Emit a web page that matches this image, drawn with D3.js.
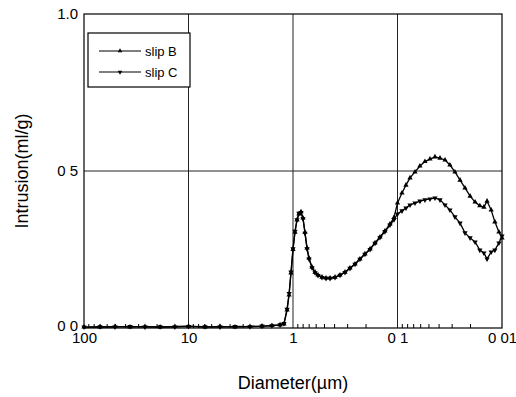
<!DOCTYPE html>
<html>
<head>
<meta charset="utf-8">
<script src="https://cdn.jsdelivr.net/npm/d3@7"></script>
<style>
  body { margin: 0; background: #fff; }
  text { font-family: "Liberation Sans", Arial, sans-serif; fill: #000; }
</style>
</head>
<body>
<svg></svg>
<script>
// diameters (um)
const diameter = [100, 70.3, 50.5, 36.3, 26.1, 18.7, 13.5, 10, 6.95, 5.0, 3.59, 2.58, 1.98, 1.59, 1.33,
   1.22, 1.14, 1.09, 1.045, 1.0, 0.957, 0.916, 0.877, 0.838, 0.802, 0.768, 0.734, 0.703, 0.658,
   0.615, 0.576, 0.528, 0.483, 0.442, 0.396, 0.355, 0.318, 0.285, 0.255, 0.229, 0.205, 0.183,
   0.164, 0.147, 0.132, 0.118, 0.108, 0.1, 0.0906, 0.083, 0.0759, 0.068, 0.061, 0.0546, 0.0489,
   0.0438, 0.0392, 0.0351, 0.0315, 0.0282, 0.0252, 0.0226, 0.0202, 0.0181, 0.0163, 0.0149,
   0.0139, 0.0127, 0.0117, 0.0107, 0.01];

const slipB = [0.003, 0.003, 0.005, 0.003, 0.005, 0.003, 0.005, 0.006, 0.003, 0.005, 0.003, 0.005, 0.006, 0.008, 0.01,
   0.013, 0.057, 0.105, 0.175, 0.25, 0.305, 0.344, 0.363, 0.37, 0.35, 0.305, 0.255, 0.223, 0.194,
   0.178, 0.169, 0.162, 0.159, 0.159, 0.162, 0.169, 0.178, 0.191, 0.204, 0.22, 0.236, 0.252,
   0.271, 0.29, 0.309, 0.331, 0.352, 0.398, 0.43, 0.455, 0.478, 0.497, 0.516, 0.53, 0.538,
   0.545, 0.541, 0.535, 0.519, 0.497, 0.471, 0.446, 0.42, 0.401, 0.389, 0.385,
   0.404, 0.376, 0.338, 0.306, 0.287];

const slipC = [0.003, 0.004, 0.003, 0.005, 0.003, 0.004, 0.003, 0.005, 0.004, 0.003, 0.005, 0.004, 0.006, 0.007, 0.01,
   0.014, 0.06, 0.11, 0.178, 0.252, 0.308, 0.345, 0.365, 0.368, 0.348, 0.302, 0.252, 0.22, 0.192,
   0.176, 0.167, 0.161, 0.158, 0.158, 0.161, 0.168, 0.177, 0.19, 0.203, 0.219, 0.235, 0.25,
   0.27, 0.288, 0.307, 0.328, 0.345, 0.363, 0.373, 0.382, 0.392, 0.398, 0.404, 0.408, 0.411,
   0.414, 0.408, 0.392, 0.376, 0.354, 0.334, 0.303, 0.287, 0.274, 0.248, 0.239,
   0.22, 0.242, 0.248, 0.271, 0.293];

const xTicks = [100, 10, 1, 0.1, 0.01],
      xTickLabels = ['100', '10', '1', '0 1', '0 01'];
const yTicks = [0, 0.5, 1.0],
      yTickLabels = ['0 0', '0 5', '1.0'];
const seriesNames = ['slip B', 'slip C'];

const WIDTH = 516,
      HEIGHT = 397,
      MARGINS = { top: 14, right: 14, bottom: 69, left: 84 };

let svg = d3.select('svg')
   .attr('width', WIDTH)
   .attr('height', HEIGHT);

let x = d3.scaleLog().domain([100, 0.01]).range([MARGINS.left, WIDTH - MARGINS.right]);
let y = d3.scaleLinear().domain([0, 1]).range([HEIGHT - MARGINS.bottom, MARGINS.top]);

// grid lines
svg.append('g')
   .selectAll('line.vg')
   .data([10, 1, 0.1])
   .join('line')
   .attr('x1', d => x(d)).attr('x2', d => x(d))
   .attr('y1', y(1)).attr('y2', y(0))
   .attr('stroke', '#222').attr('stroke-width', 1);

svg.append('line')
   .attr('x1', x(100)).attr('x2', x(0.01))
   .attr('y1', y(0.5)).attr('y2', y(0.5))
   .attr('stroke', '#222').attr('stroke-width', 1);

// minor ticks along the bottom, pointing inward
let minors = [];
[100, 10, 1, 0.1].forEach(top => {
   for (let k = 2; k <= 9; k++) minors.push(top / 10 * k);
});
svg.append('g')
   .selectAll('line')
   .data(minors.filter(d => d < 100 && d > 0.01))
   .join('line')
   .attr('x1', d => x(d)).attr('x2', d => x(d))
   .attr('y1', y(0)).attr('y2', y(0) - 4)
   .attr('stroke', '#000');

// axes
let xAxis = svg.append('g')
   .attr('transform', 'translate(0,' + y(0) + ')')
   .call(d3.axisBottom(x).tickValues(xTicks).tickFormat((d, i) => xTickLabels[i]).tickSize(0).tickPadding(4));
xAxis.select('.domain').remove();
xAxis.selectAll('text').attr('font-size', 15).attr('font-family', '"Liberation Sans", Arial, sans-serif');

let yAxis = svg.append('g')
   .attr('transform', 'translate(' + (MARGINS.left - 6) + ',0)')
   .call(d3.axisLeft(y).tickValues(yTicks).tickFormat((d, i) => yTickLabels[i]).tickSize(0).tickPadding(0));
yAxis.select('.domain').remove();
yAxis.selectAll('text').attr('font-size', 15).attr('font-family', '"Liberation Sans", Arial, sans-serif');
yAxis.selectAll('.tick').filter(d => d === 0).select('text').attr('dy', '0.15em');

// frame
svg.append('rect')
   .attr('x', x(100)).attr('y', y(1))
   .attr('width', x(0.01) - x(100)).attr('height', y(0) - y(1))
   .attr('fill', 'none').attr('stroke', '#000').attr('stroke-width', 1.2);

// series
let line = d3.line()
   .x(d => x(d[0]))
   .y(d => y(d[1]));

let series = [
   { name: seriesNames[0], values: slipB, rot: 0 },
   { name: seriesNames[1], values: slipC, rot: 180 }
];
let tri = d3.symbol().type(d3.symbolTriangle).size(12);

series.forEach(s => {
   let pts = diameter.map((d, i) => [d, s.values[i]]);
   svg.append('path')
      .datum(pts)
      .attr('fill', 'none')
      .attr('stroke', '#000')
      .attr('stroke-width', 1.3)
      .attr('d', line);
   svg.append('g')
      .selectAll('path')
      .data(pts)
      .join('path')
      .attr('d', tri)
      .attr('transform', d => 'translate(' + x(d[0]) + ',' + y(d[1]) + ') rotate(' + s.rot + ')')
      .attr('fill', '#000');
});

// legend
let legend = svg.append('g').attr('transform', 'translate(88,33)');
legend.append('rect')
   .attr('width', 102).attr('height', 54)
   .attr('fill', '#fff').attr('stroke', '#000').attr('stroke-width', 1.2);
series.forEach((s, i) => {
   let ly = 18 + i * 21;
   legend.append('line')
      .attr('x1', 11).attr('x2', 53).attr('y1', ly).attr('y2', ly)
      .attr('stroke', '#000').attr('stroke-width', 1.1);
   legend.append('path')
      .attr('d', d3.symbol().type(d3.symbolTriangle).size(9))
      .attr('transform', 'translate(32,' + ly + ') rotate(' + s.rot + ')');
   legend.append('text')
      .attr('x', 57).attr('y', ly + 4.5)
      .attr('font-size', 13)
      .text(s.name);
});

// axis titles
svg.append('text')
   .attr('x', x(1)).attr('y', 389)
   .attr('text-anchor', 'middle')
   .attr('font-size', 18)
   .text('Diameter(\u00b5m)');

svg.append('text')
   .attr('transform', 'translate(28,' + y(0.5) + ') rotate(-90)')
   .attr('text-anchor', 'middle')
   .attr('font-size', 18)
   .text('Intrusion(ml/g)');
</script>
</body>
</html>
